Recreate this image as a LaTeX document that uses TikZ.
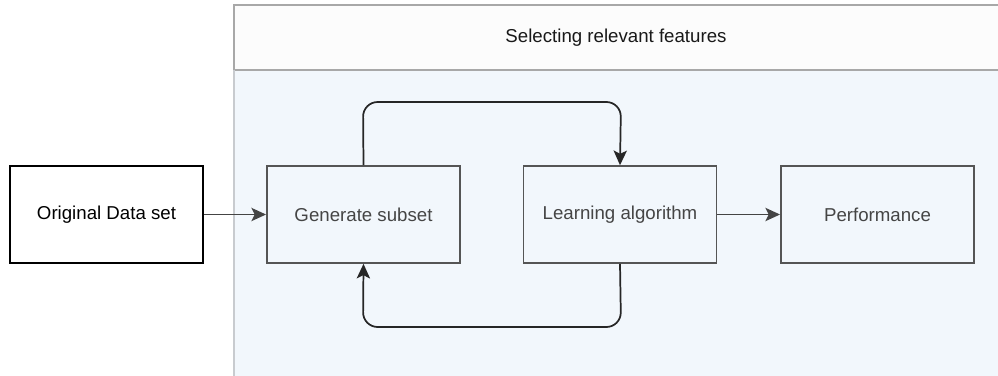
\documentclass[tikz,border=0pt]{standalone}
\usepackage{fontspec}
\setmainfont{Liberation Sans}
\usetikzlibrary{arrows.meta}
\definecolor{bodyfill}{HTML}{F2F7FC}
\definecolor{frameline}{HTML}{A8A8A8}
\definecolor{boxline}{HTML}{555555}
\definecolor{boxtext}{HTML}{454545}
\begin{document}
\begin{tikzpicture}[x=0.75pt,y=-0.75pt,
  procbox/.style={draw=boxline,line width=1.2pt,minimum width=145pt,minimum height=72.75pt,inner sep=0pt,text=boxtext,font=\fontsize{14}{16}\selectfont},
  srcbox/.style={draw=black,line width=1.2pt,minimum width=145pt,minimum height=72.75pt,inner sep=0pt,text=black,font=\fontsize{14}{16}\selectfont},
  flow/.style={draw=boxline!80!black,line width=1.3pt,-{Stealth[length=11pt,width=10pt,inset=2.5pt]}},
  loop/.style={draw=black!85,line width=1.3pt,rounded corners=11pt,-{Stealth[length=11pt,width=10pt,inset=2.5pt]}}]
\useasboundingbox (0,0) rectangle (998,375);
\fill[white] (0,0) rectangle (998,375);
% container
\fill[bodyfill] (234,70) rectangle (1000,377);
\draw[frameline,line width=1pt,fill=white!99!black] (1000,5) -- (234,5) -- (234,70) -- (1000,70);
\draw[bodyfill!80!black!90,line width=0.9pt] (234,70) -- (234,377);
\node[font=\fontsize{14}{16}\selectfont,text=black!90] (title) at (616,38) {Selecting relevant features};
% nodes
\node[srcbox] (orig) at (106.5,214.5) {Original Data set};
\node[procbox] (gen) at (363.5,214.5) {Generate subset};
\node[procbox] (learn) at (620,214.5) {Learning algorithm};
\node[procbox] (perf) at (877.5,214.5) {Performance};
% connectors
\draw[flow] (orig) -- (gen);
\draw[flow] (learn) -- (perf);
\coordinate (t1) at (363,102);
\coordinate (t2) at (621,102);
\coordinate (b1) at (621,327);
\coordinate (b2) at (363,327);
\draw[loop] (gen.north) -- (t1) -- (t2) -- (learn.north);
\draw[loop] (learn.south) -- (b1) -- (b2) -- (gen.south);
\end{tikzpicture}
\end{document}
